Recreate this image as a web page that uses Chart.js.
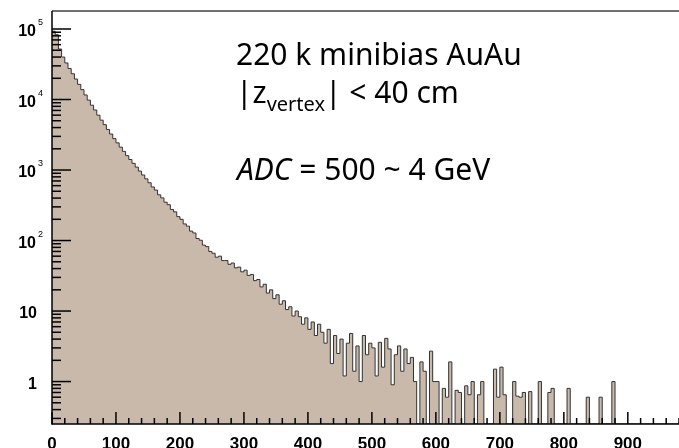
<!DOCTYPE html>
<html>
<head>
<meta charset="utf-8">
<script src="https://cdn.jsdelivr.net/npm/chart.js@4.4.0/dist/chart.umd.min.js"></script>
<style>
  html, body { margin: 0; padding: 0; background: #fff; }
</style>
</head>
<body>
<canvas id="chart" width="679" height="448"></canvas>
<script>
// ADC histogram, 5 ADC counts per bin
const BIN_WIDTH = 5;

// ADC 0 - 245
const countsLow = [
  93000, 83000, 52000, 40000, 33000, 27500, 23200, 19500, 16400, 13800,
  11600, 9800, 8300, 7100, 6000, 5100, 4400, 3760, 3240, 2790,
  2430, 2110, 1840, 1600, 1410, 1245, 1100, 966, 850, 750,
  660, 575, 520, 445, 402, 350, 322, 276, 255, 218,
  200, 172, 160, 136, 128, 107, 101, 86, 82, 70
];
// ADC 250 - 495
const countsMid = [
  66, 58, 60, 52, 52, 46, 48, 41, 42, 36,
  38, 32, 33, 27, 28, 22, 24, 18, 20, 15,
  17, 12.5, 14, 10.5, 11.5, 8.5, 10, 8.3, 6.5, 8,
  5.5, 7, 4.5, 6.5, 5, 3.5, 5.5, 1.8, 4.5, 2.5,
  4, 1.2, 3.5, 4.8, 1.4, 3.2, 1.0, 4.5, 2.4, 3.5
];
// ADC 500 - 975
const countsTail = [
  3.0, 1.2, 3.6, 1.6, 4.1, 2.9, 0.9, 2.4, 3.2, 1.4,
  2.9, 1.8, 2.2, 1.0, 0, 1.9, 1.4, 0, 2.7, 1.0,
  1.0, 0, 0.8, 0.6, 1.9, 0, 0.75, 0.7, 0, 0.87,
  0.65, 1.0, 0, 0.65, 1.0, 0, 0, 0, 1.5, 0.6,
  1.6, 0.65, 0, 0, 1.0, 0.62, 0.6, 0.7, 0, 0.72,
  0, 0, 1.0, 0, 0, 0.7, 0.8, 0, 0, 0,
  0, 0.8, 0, 0, 0, 0, 0, 0.6, 0, 0,
  0, 0.6, 0, 0, 0, 1.0, 0, 0, 0, 0,
  0, 0, 0, 0, 0, 0, 0, 0, 0, 0,
  0, 0, 0, 0, 0, 0
];

const xTickLabels = [0, 100, 200, 300, 400, 500, 600, 700, 800, 900];
const yDecades = [0, 1, 2, 3, 4, 5];   // 10^n labels

const X_MAX = 980;
const Y_MIN = 0.25;
const Y_MAX = 1.8e5;

const counts = countsLow.concat(countsMid, countsTail);
const points = counts.map((c, i) => ({ x: i * BIN_WIDTH, y: Math.max(c, Y_MIN) }));
points.push({ x: counts.length * BIN_WIDTH, y: Y_MIN });

function seg(ctx, x1, y1, x2, y2) {
  ctx.beginPath();
  ctx.moveTo(x1, y1);
  ctx.lineTo(x2, y2);
  ctx.stroke();
}

const rootAxes = {
  id: 'rootAxes',
  afterDraw(chart) {
    const { ctx, chartArea: a } = chart;
    const xs = chart.scales.x, ys = chart.scales.y;
    ctx.save();

    // frame
    ctx.strokeStyle = '#707070';
    ctx.lineWidth = 2;
    seg(ctx, a.left, a.top, a.right, a.top);
    ctx.strokeStyle = '#000';
    ctx.lineWidth = 1.5;
    seg(ctx, a.left, a.top, a.left, a.bottom + 0.75);
    seg(ctx, a.left, a.bottom, a.right, a.bottom);

    // x ticks, drawn inside
    for (let v = 0; v <= X_MAX; v += 20) {
      const px = xs.getPixelForValue(v);
      seg(ctx, px, a.bottom, px, a.bottom - (v % 100 === 0 ? 12 : 6));
    }
    // y ticks, drawn inside
    for (let n = -1; n <= 5; n++) {
      for (let m = 1; m <= 9; m++) {
        const v = m * Math.pow(10, n);
        if (v < Y_MIN || v > Y_MAX) continue;
        const py = ys.getPixelForValue(v);
        seg(ctx, a.left, py, a.left + (m === 1 ? 19 : 9), py);
      }
    }

    // tick labels
    ctx.fillStyle = '#000';
    ctx.font = 'bold 17px "Liberation Sans", Arial, sans-serif';
    ctx.textAlign = 'center';
    ctx.textBaseline = 'alphabetic';
    xTickLabels.forEach(v => ctx.fillText(String(v), xs.getPixelForValue(v), 449));

    yDecades.forEach(n => {
      const py = ys.getPixelForValue(Math.pow(10, n));
      ctx.font = 'bold 16px "Liberation Sans", Arial, sans-serif';
      ctx.textAlign = 'right';
      if (n <= 1) {
        ctx.fillText(n === 0 ? '1' : '10', 37, py + 7);
      } else {
        ctx.fillText('10', 36, py + 7);
        ctx.font = '9px "Liberation Sans", Arial, sans-serif';
        ctx.textAlign = 'left';
        ctx.fillText(String(n), 38, py - 4);
      }
    });

    // annotation text
    const big = '30px "Noto Sans", sans-serif';
    ctx.textAlign = 'left';
    ctx.font = big;
    ctx.fillText('220 k minibias AuAu', 236, 65);

    let x = 236;
    ctx.fillText('|z', x, 103);
    x += ctx.measureText('|z').width;
    ctx.font = '20px "Noto Sans", sans-serif';
    ctx.fillText('vertex', x, 111);
    x += ctx.measureText('vertex').width;
    ctx.font = big;
    ctx.fillText('| < 40 cm', x, 103);

    x = 237;
    ctx.font = 'italic ' + big;
    ctx.fillText('ADC', x, 180);
    x += ctx.measureText('ADC').width;
    ctx.font = big;
    ctx.fillText(' = 500 ~ 4 GeV', x, 180);

    ctx.restore();
  }
};

const ctx = document.getElementById('chart').getContext('2d');
new Chart(ctx, {
  type: 'line',
  data: {
    datasets: [{
      data: points,
      stepped: 'before',
      fill: 'start',
      backgroundColor: '#c8b9aa',
      borderColor: '#333333',
      borderWidth: 1,
      pointRadius: 0
    }]
  },
  options: {
    responsive: false,
    animation: false,
    layout: { padding: { left: 52, top: 11, right: 0, bottom: 24 } },
    scales: {
      x: { type: 'linear', display: false, min: 0, max: X_MAX },
      y: { type: 'logarithmic', display: false, min: Y_MIN, max: Y_MAX }
    },
    plugins: { legend: { display: false }, tooltip: { enabled: false } }
  },
  plugins: [rootAxes]
});
</script>
</body>
</html>
